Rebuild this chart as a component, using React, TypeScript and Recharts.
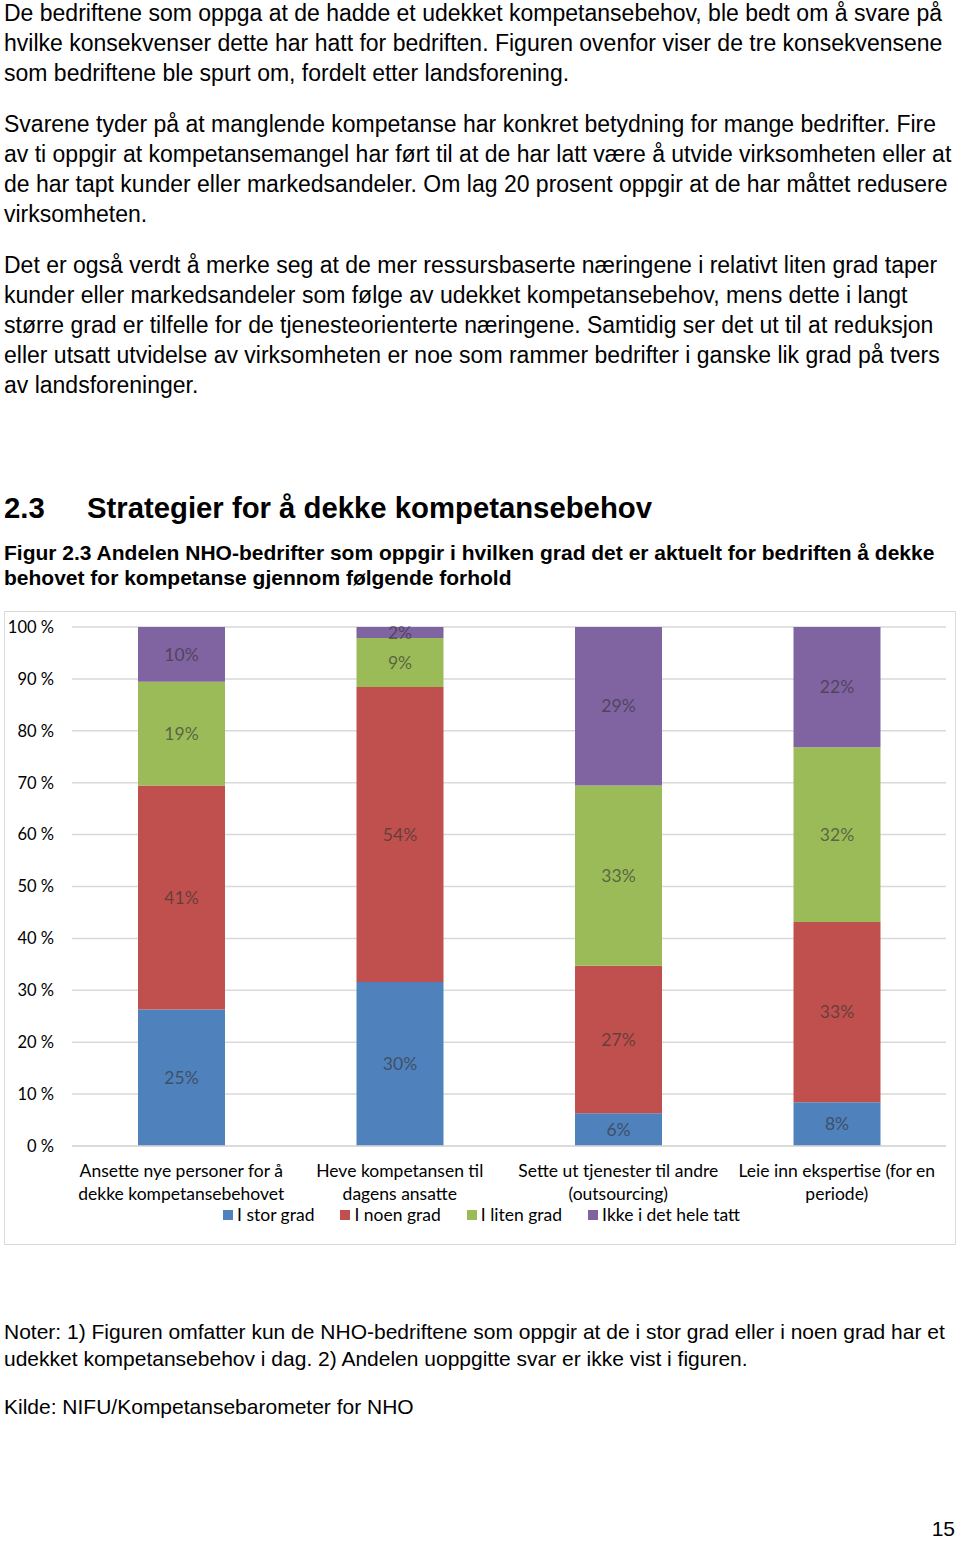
import React from 'react';
import {
  BarChart,
  Bar,
  XAxis,
  YAxis,
  CartesianGrid,
  Legend,
  LabelList,
} from 'recharts';

// Kategorier (x-aksen), linjeskift markert med \n
const categories = [
  'Ansette nye personer for å\ndekke kompetansebehovet',
  'Heve kompetansen til\ndagens ansatte',
  'Sette ut tjenester til andre\n(outsourcing)',
  'Leie inn ekspertise (for en\nperiode)',
];

// Andeler i prosent, lest av figuren
const iStorGrad = [25, 30, 6, 8];
const iNoenGrad = [41, 54, 27, 33];
const iLitenGrad = [19, 9, 33, 32];
const ikkeIDetHeleTatt = [10, 2, 29, 22];

const seriesNames = ['I stor grad', 'I noen grad', 'I liten grad', 'Ikke i det hele tatt'];
const seriesColors = ['#4F81BD', '#C0504D', '#9BBB59', '#8064A2'];
const seriesKeys = ['stor', 'noen', 'liten', 'ikke'];

const yTicks = [0, 0.1, 0.2, 0.3, 0.4, 0.5, 0.6, 0.7, 0.8, 0.9, 1];

const data = categories.map((name, i) => ({
  name,
  stor: iStorGrad[i],
  noen: iNoenGrad[i],
  liten: iLitenGrad[i],
  ikke: ikkeIDetHeleTatt[i],
}));

const chartFont = "Lato, 'Open Sans', sans-serif";
const textFont = "'Liberation Sans', Arial, sans-serif";
const chartFontSize = 17.5;

const CategoryTick = (props: any) => {
  const { x, y, payload } = props;
  const lines = String(payload.value).split('\n');
  return (
    <g transform={`translate(${x},${y})`}>
      {lines.map((line, i) => (
        <text
          key={i}
          x={0}
          y={0}
          dy={23 + i * 23}
          textAnchor="middle"
          fill="#000"
          fontSize={chartFontSize}
          fontFamily={chartFont}
        >
          {line}
        </text>
      ))}
    </g>
  );
};

// egen legende i samme rekkefølge som seriene
const renderLegend = () => (
  <div
    style={{
      display: 'flex',
      justifyContent: 'center',
      fontFamily: chartFont,
      fontSize: chartFontSize,
      lineHeight: '20px',
      paddingLeft: 12,
    }}
  >
    {seriesNames.map((name, i) => (
      <span
        key={name}
        style={{
          display: 'inline-flex',
          alignItems: 'center',
          marginRight: i < seriesNames.length - 1 ? 26 : 0,
        }}
      >
        <span
          style={{
            display: 'inline-block',
            width: 10,
            height: 10,
            background: seriesColors[i],
            marginRight: 4,
          }}
        />
        {name}
      </span>
    ))}
  </div>
);

const lines = (arr: string[]) => arr.map((l, i) => <div key={i}>{l}</div>);

export default function App() {
  return (
    <div
      style={{
        position: 'absolute',
        left: 0,
        top: 0,
        width: 960,
        height: 1541,
        background: '#fff',
        fontFamily: textFont,
        color: '#000',
        overflow: 'hidden',
      }}
    >
      <div style={{ position: 'absolute', left: 4, top: -2, fontSize: 23, lineHeight: '30px', whiteSpace: 'nowrap' }}>
        {lines([
          'De bedriftene som oppga at de hadde et udekket kompetansebehov, ble bedt om å svare på',
          'hvilke konsekvenser dette har hatt for bedriften. Figuren ovenfor viser de tre konsekvensene',
          'som bedriftene ble spurt om, fordelt etter landsforening.',
        ])}
      </div>
      <div style={{ position: 'absolute', left: 4, top: 109, fontSize: 23, lineHeight: '30px', whiteSpace: 'nowrap' }}>
        {lines([
          'Svarene tyder på at manglende kompetanse har konkret betydning for mange bedrifter. Fire',
          'av ti oppgir at kompetansemangel har ført til at de har latt være å utvide virksomheten eller at',
          'de har tapt kunder eller markedsandeler. Om lag 20 prosent oppgir at de har måttet redusere',
          'virksomheten.',
        ])}
      </div>
      <div style={{ position: 'absolute', left: 4, top: 250, fontSize: 23, lineHeight: '30px', whiteSpace: 'nowrap' }}>
        {lines([
          'Det er også verdt å merke seg at de mer ressursbaserte næringene i relativt liten grad taper',
          'kunder eller markedsandeler som følge av udekket kompetansebehov, mens dette i langt',
          'større grad er tilfelle for de tjenesteorienterte næringene. Samtidig ser det ut til at reduksjon',
          'eller utsatt utvidelse av virksomheten er noe som rammer bedrifter i ganske lik grad på tvers',
          'av landsforeninger.',
        ])}
      </div>

      <div style={{ position: 'absolute', left: 4, top: 490, fontSize: 29.3, fontWeight: 'bold', lineHeight: '36px', whiteSpace: 'nowrap' }}>
        <span style={{ display: 'inline-block', width: 83 }}>2.3</span>
        Strategier for å dekke kompetansebehov
      </div>
      <div style={{ position: 'absolute', left: 4, top: 540, fontSize: 21, fontWeight: 'bold', lineHeight: '25px', whiteSpace: 'nowrap' }}>
        {lines([
          'Figur 2.3 Andelen NHO-bedrifter som oppgir i hvilken grad det er aktuelt for bedriften å dekke',
          'behovet for kompetanse gjennom følgende forhold',
        ])}
      </div>

      <div
        style={{
          position: 'absolute',
          left: 4,
          top: 611,
          width: 952,
          height: 634,
          border: '1px solid #d9d9d9',
          boxSizing: 'border-box',
          background: '#fff',
        }}
      >
        <BarChart
          width={950}
          height={632}
          data={data}
          stackOffset="expand"
          barSize={87}
          margin={{ top: 15, right: 9, left: 0, bottom: 19 }}
        >
          <CartesianGrid vertical={false} stroke="#d9d9d9" strokeWidth={1.5} />
          <XAxis
            dataKey="name"
            axisLine={{ stroke: '#d9d9d9', strokeWidth: 1.5 }}
            tickLine={false}
            interval={0}
            height={59}
            tick={<CategoryTick />}
          />
          <YAxis
            width={67}
            domain={[0, 1]}
            ticks={yTicks}
            tickFormatter={(v: number) => `${Math.round(v * 100)} %`}
            axisLine={false}
            tickLine={false}
            tickMargin={12}
            tick={{ fill: '#000', fontSize: 16.5, fontFamily: chartFont }}
          />
          <Legend verticalAlign="bottom" height={20} content={renderLegend} />
          {seriesKeys.map((key, i) => (
            <Bar
              key={key}
              dataKey={key}
              name={seriesNames[i]}
              stackId="a"
              fill={seriesColors[i]}
              isAnimationActive={false}
            >
              <LabelList
                dataKey={key}
                position="center"
                formatter={(v: any) => `${v}%`}
                fill="#333"
                fillOpacity={0.65}
                fontSize={chartFontSize}
                fontFamily={chartFont}
              />
            </Bar>
          ))}
        </BarChart>
      </div>

      <div style={{ position: 'absolute', left: 4, top: 1318, fontSize: 21, lineHeight: '27px', whiteSpace: 'nowrap' }}>
        {lines([
          'Noter: 1) Figuren omfatter kun de NHO-bedriftene som oppgir at de i stor grad eller i noen grad har et',
          'udekket kompetansebehov i dag. 2) Andelen uoppgitte svar er ikke vist i figuren.',
        ])}
      </div>
      <div style={{ position: 'absolute', left: 4, top: 1393, fontSize: 21, lineHeight: '28px', whiteSpace: 'nowrap' }}>
        Kilde: NIFU/Kompetansebarometer for NHO
      </div>
      <div style={{ position: 'absolute', right: 5, top: 1518, fontSize: 21, lineHeight: '22px' }}>15</div>
    </div>
  );
}
